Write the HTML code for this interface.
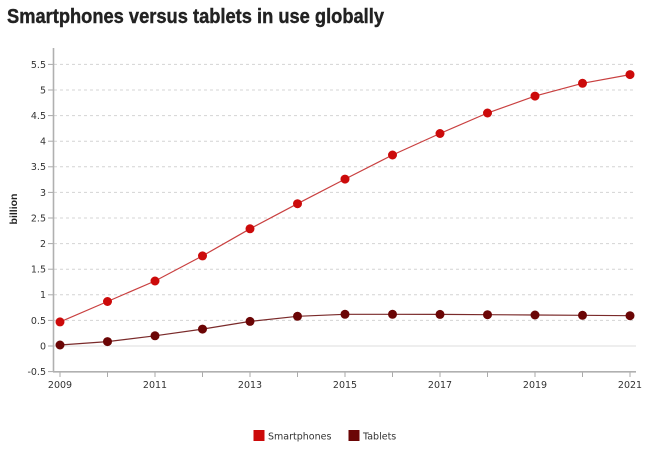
<!DOCTYPE html>
<html><head><meta charset="utf-8"><style>
html,body{margin:0;padding:0;background:#fff;}
svg{display:block;}
</style></head><body>
<svg width="660" height="452" viewBox="0 0 660 452" xmlns="http://www.w3.org/2000/svg">
<rect width="660" height="452" fill="#fff"/>
<text x="7" y="23" font-family="Liberation Sans, sans-serif" font-weight="bold" font-size="20" fill="#222" stroke="#222" stroke-width="0.4" textLength="377" lengthAdjust="spacingAndGlyphs">Smartphones versus tablets in use globally</text>

<g stroke="#d4d4d4" stroke-width="1" stroke-dasharray="3,3">
<line x1="54" x2="636" y1="320.4" y2="320.4"/>
<line x1="54" x2="636" y1="294.8" y2="294.8"/>
<line x1="54" x2="636" y1="269.2" y2="269.2"/>
<line x1="54" x2="636" y1="243.6" y2="243.6"/>
<line x1="54" x2="636" y1="218" y2="218"/>
<line x1="54" x2="636" y1="192.4" y2="192.4"/>
<line x1="54" x2="636" y1="166.8" y2="166.8"/>
<line x1="54" x2="636" y1="141.2" y2="141.2"/>
<line x1="54" x2="636" y1="115.6" y2="115.6"/>
<line x1="54" x2="636" y1="90" y2="90"/>
<line x1="54" x2="636" y1="64.4" y2="64.4"/>
</g>
<line x1="54" x2="636" y1="346" y2="346" stroke="#dcdcdc" stroke-width="1"/>

<g stroke="#aaa" stroke-width="1">
<line x1="48" x2="53" y1="371.6" y2="371.6"/>
<line x1="48" x2="53" y1="346" y2="346"/>
<line x1="48" x2="53" y1="320.4" y2="320.4"/>
<line x1="48" x2="53" y1="294.8" y2="294.8"/>
<line x1="48" x2="53" y1="269.2" y2="269.2"/>
<line x1="48" x2="53" y1="243.6" y2="243.6"/>
<line x1="48" x2="53" y1="218" y2="218"/>
<line x1="48" x2="53" y1="192.4" y2="192.4"/>
<line x1="48" x2="53" y1="166.8" y2="166.8"/>
<line x1="48" x2="53" y1="141.2" y2="141.2"/>
<line x1="48" x2="53" y1="115.6" y2="115.6"/>
<line x1="48" x2="53" y1="90" y2="90"/>
<line x1="48" x2="53" y1="64.4" y2="64.4"/>
<line x1="60" x2="60" y1="372" y2="377"/>
<line x1="107.5" x2="107.5" y1="372" y2="377"/>
<line x1="155" x2="155" y1="372" y2="377"/>
<line x1="202.5" x2="202.5" y1="372" y2="377"/>
<line x1="250" x2="250" y1="372" y2="377"/>
<line x1="297.5" x2="297.5" y1="372" y2="377"/>
<line x1="345" x2="345" y1="372" y2="377"/>
<line x1="392.5" x2="392.5" y1="372" y2="377"/>
<line x1="440" x2="440" y1="372" y2="377"/>
<line x1="487.5" x2="487.5" y1="372" y2="377"/>
<line x1="535" x2="535" y1="372" y2="377"/>
<line x1="582.5" x2="582.5" y1="372" y2="377"/>
<line x1="630" x2="630" y1="372" y2="377"/>
</g>
<line x1="53.5" x2="53.5" y1="48" y2="372" stroke="#b0b0b0" stroke-width="1.6"/>
<line x1="53" x2="636" y1="371.8" y2="371.8" stroke="#b0b0b0" stroke-width="1.6"/>

<g font-family="DejaVu Sans, sans-serif" font-size="9.5" fill="#333" text-anchor="end">
<text x="46" y="375">-0.5</text>
<text x="46" y="349.4">0</text>
<text x="46" y="323.8">0.5</text>
<text x="46" y="298.2">1</text>
<text x="46" y="272.6">1.5</text>
<text x="46" y="247">2</text>
<text x="46" y="221.4">2.5</text>
<text x="46" y="195.8">3</text>
<text x="46" y="170.2">3.5</text>
<text x="46" y="144.6">4</text>
<text x="46" y="119">4.5</text>
<text x="46" y="93.4">5</text>
<text x="46" y="67.8">5.5</text>
</g>
<g font-family="DejaVu Sans, sans-serif" font-size="9.5" fill="#333" text-anchor="middle">
<text x="60" y="388">2009</text>
<text x="155" y="388">2011</text>
<text x="250" y="388">2013</text>
<text x="345" y="388">2015</text>
<text x="440" y="388">2017</text>
<text x="535" y="388">2019</text>
<text x="630" y="388">2021</text>
</g>
<text transform="translate(17,209) rotate(-90)" text-anchor="middle" font-family="Liberation Sans, sans-serif" font-weight="bold" font-size="10.5" fill="#222">billion</text>

<polyline fill="none" stroke="#c94040" stroke-width="1.2" points="60,321.9 107.5,301.5 155,281 202.5,255.9 250,228.8 297.5,203.7 345,179.1 392.5,155 440,133.5 487.5,113 535,96.1 582.5,83.3 630,74.6"/>
<polyline fill="none" stroke="#7a2a2a" stroke-width="1.2" points="60,345 107.5,341.6 155,335.8 202.5,329.1 250,321.4 297.5,316.3 345,314.3 392.5,314.3 440,314.4 487.5,314.7 535,315 582.5,315.3 630,315.7"/>
<g fill="#cc0a0a">
<circle cx="60" cy="321.9" r="4.5"/><circle cx="107.5" cy="301.5" r="4.5"/><circle cx="155" cy="281" r="4.5"/><circle cx="202.5" cy="255.9" r="4.5"/><circle cx="250" cy="228.8" r="4.5"/><circle cx="297.5" cy="203.7" r="4.5"/><circle cx="345" cy="179.1" r="4.5"/><circle cx="392.5" cy="155" r="4.5"/><circle cx="440" cy="133.5" r="4.5"/><circle cx="487.5" cy="113" r="4.5"/><circle cx="535" cy="96.1" r="4.5"/><circle cx="582.5" cy="83.3" r="4.5"/><circle cx="630" cy="74.6" r="4.5"/>
</g>
<g fill="#6b0505">
<circle cx="60" cy="345" r="4.5"/><circle cx="107.5" cy="341.6" r="4.5"/><circle cx="155" cy="335.8" r="4.5"/><circle cx="202.5" cy="329.1" r="4.5"/><circle cx="250" cy="321.4" r="4.5"/><circle cx="297.5" cy="316.3" r="4.5"/><circle cx="345" cy="314.3" r="4.5"/><circle cx="392.5" cy="314.3" r="4.5"/><circle cx="440" cy="314.4" r="4.5"/><circle cx="487.5" cy="314.7" r="4.5"/><circle cx="535" cy="315" r="4.5"/><circle cx="582.5" cy="315.3" r="4.5"/><circle cx="630" cy="315.7" r="4.5"/>
</g>

<rect x="253.5" y="430" width="11" height="11" fill="#cc0a0a"/>
<text x="268" y="439.5" font-family="DejaVu Sans, sans-serif" font-size="9.5" fill="#333">Smartphones</text>
<rect x="348.5" y="430" width="11" height="11" fill="#6b0505"/>
<text x="363" y="439.5" font-family="DejaVu Sans, sans-serif" font-size="9.5" fill="#333">Tablets</text>
</svg>
</body></html>
